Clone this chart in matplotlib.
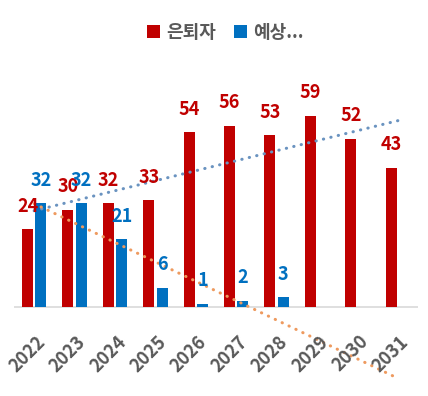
import matplotlib
matplotlib.use('Agg')
import matplotlib.pyplot as plt
import numpy as np

plt.rcParams['font.family'] = ['Noto Sans CJK KR', 'DejaVu Sans']

years = ['2022', '2023', '2024', '2025', '2026', '2027', '2028', '2029', '2030', '2031']
retirees = [24, 30, 32, 33, 54, 56, 53, 59, 52, 43]
expected = [32, 32, 21, 6, 1, 2, 3]
# trendline ends (first and last year)
retirees_trend = [29.7, 57.5]
expected_trend = [31.9, -22.0]

red = '#C00000'
blue = '#0070C0'
gray = '#595959'

fig = plt.figure(figsize=(4.28, 3.96), dpi=100)
ax = fig.add_axes([0.0327, 0.0366, 0.944, 0.72])

x = np.arange(len(years))
xe = np.arange(len(expected))
w = 0.27
b1 = ax.bar(x - 0.165, retirees, width=w, color=red, label='은퇴자', zorder=2)
b2 = ax.bar(xe + 0.165, expected, width=w, color=blue, label='예상...', zorder=2)

ends = [x[0], x[-1]]
ax.plot(ends, retirees_trend, color='#6A93C0', lw=2.2, linestyle=(0, (0.1, 2.4)),
        dash_capstyle='round', zorder=3)
ax.plot(ends, expected_trend, color='#EE9A5F', lw=2.2, linestyle=(0, (0.1, 2.4)),
        dash_capstyle='round', zorder=3)

for bars, vals, c in [(b1, retirees, red), (b2, expected, blue)]:
    for rect, v in zip(bars, vals):
        ax.annotate(str(v), (rect.get_x() + rect.get_width() / 2, v),
                    xytext=(0, 16.5), textcoords='offset points',
                    ha='center', va='center', color=c,
                    fontsize=13, fontweight='bold', zorder=4)

ax.set_xlim(-0.5, 9.5)
ax.set_ylim(-23, 65)
ax.axhline(0, color='#D9D9D9', lw=1.2, zorder=1)
for s in ax.spines.values():
    s.set_visible(False)
ax.set_yticks([])
ax.set_xticks([])

for i, yr in enumerate(years):
    ax.annotate(yr, (i, 0), xytext=(1, -18), textcoords='offset points',
                rotation=45, rotation_mode='anchor', ha='right', va='top',
                fontsize=13, fontweight='bold', color=gray)

fig.legend(handles=[b1, b2], loc='center', bbox_to_anchor=(0.526, 0.919),
           ncol=2, frameon=False, handlelength=0.75, handleheight=0.75,
           handletextpad=0.3, columnspacing=1.0,
           prop={'size': 13, 'weight': 'bold'}, labelcolor=gray)

fig.savefig('out.png', dpi=100)
